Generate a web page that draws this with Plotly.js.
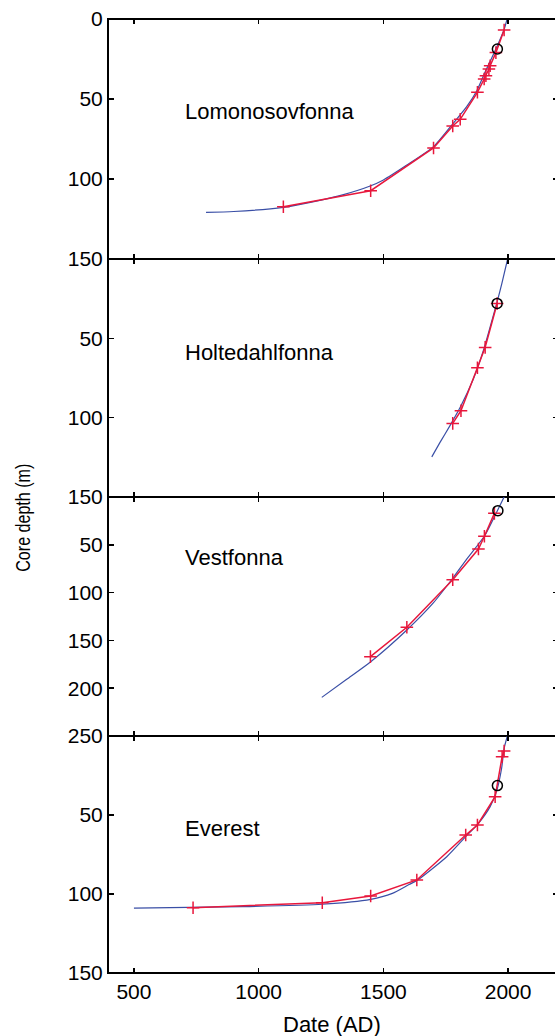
<!DOCTYPE html>
<html>
<head>
<meta charset="utf-8">
<script src="https://cdn.plot.ly/plotly-3.0.1.min.js"></script>
<style>
html, body { margin: 0; padding: 0; overflow: hidden; background: #fff; width: 555px; height: 1036px; }
#chart { width: 558px; height: 1036px; }
</style>
</head>
<body>
<div id="chart"></div>
<script>
// ---- Data ----
const panelNames = ["Lomonosovfonna", "Holtedahlfonna", "Vestfonna", "Everest"];
const xTickVals = [500, 1000, 1500, 2000];

// Lomonosovfonna
const lomoModelYear  = [789, 900, 1099, 1250, 1340, 1447, 1500, 1594, 1701, 1780, 1834, 1874, 1901, 1955, 1984, 1996];
const lomoModelDepth = [120.8, 120.3, 117.7, 113.2, 109.8, 104.4, 100.6, 91.3, 79.8, 65.2, 54.8, 45, 35.5, 17.3, 6.5, 0];
const lomoDatedYear  = [1099, 1449, 1701, 1778, 1808, 1877, 1904, 1911, 1923, 1928, 1951, 1984];
const lomoDatedDepth = [117.3, 107.3, 80.6, 66.9, 62.7, 45.8, 37.5, 35.4, 31.3, 29.2, 21, 6.9];
const lomoRefYear  = [1957];
const lomoRefDepth = [18.75];

// Holtedahlfonna
const holtModelYear  = [1694, 1727, 1767, 1808, 1861, 1901, 1928, 1956, 1975, 1998];
const holtModelDepth = [124.7, 115.6, 105, 93.5, 75.5, 57.6, 42.8, 27, 15.4, 0];
const holtDatedYear  = [1778, 1811, 1877, 1908, 1956];
const holtDatedDepth = [103.6, 95.6, 68.5, 55.7, 28];
const holtRefYear  = [1956];
const holtRefDepth = [28];

// Vestfonna
const vestModelYear  = [1253, 1353, 1448, 1594, 1701, 1778, 1834, 1908, 1955, 1984];
const vestModelDepth = [209.6, 190.7, 172.6, 139.1, 110.5, 85, 65, 39.7, 15.4, 0];
const vestDatedYear  = [1448, 1594, 1778, 1881, 1905, 1945];
const vestDatedDepth = [167, 136.3, 86.5, 54.4, 41, 17.1];
const vestRefYear  = [1959];
const vestRefDepth = [14.3];

// Everest
const evModelYear  = [500, 935, 1255, 1449, 1536, 1603, 1634, 1754, 1830, 1881, 1928, 1955, 1974, 1984, 1997];
const evModelDepth = [109, 108, 106.5, 103.4, 99.6, 94, 91.5, 76.4, 63.7, 55.3, 44.7, 34.2, 20.4, 7.8, 0];
const evDatedYear  = [737, 1255, 1449, 1634, 1830, 1877, 1948, 1976, 1984];
const evDatedDepth = [108.7, 105.5, 101.3, 91.1, 62.7, 56.3, 38.4, 13.1, 9.5];
const evRefYear  = [1957];
const evRefDepth = [31.4];

const depthRanges = [150, 150, 250, 150];
const depthTicks = [[0, 50, 100, 150], [50, 100, 150], [50, 100, 150, 200, 250], [50, 100, 150]];

// ---- Styling / layout ----
const RED = '#e8173c';
const BLUE = '#3a4fa6';
const FONT = 'Liberation Sans, Arial, Helvetica, sans-serif';
const YTITLE = 'Core depth (m)';

const series = [
  [lomoModelYear, lomoModelDepth, lomoDatedYear, lomoDatedDepth, lomoRefYear, lomoRefDepth],
  [holtModelYear, holtModelDepth, holtDatedYear, holtDatedDepth, holtRefYear, holtRefDepth],
  [vestModelYear, vestModelDepth, vestDatedYear, vestDatedDepth, vestRefYear, vestRefDepth],
  [evModelYear, evModelDepth, evDatedYear, evDatedDepth, evRefYear, evRefDepth]
];

// pixel geometry
const W = 558, H = 1036, ML = 109, MR = 0, MT = 19, MB = 63;
const PW = W - ML - MR, PH = H - MT - MB;
const bounds = [19, 259, 497, 736, 973]; // panel top/bottom pixels
const px2x = p => (p - ML) / PW;
const py2y = p => (H - MB - p) / PH;

const traces = [];
const layout = {
  width: W, height: H,
  margin: {l: ML, r: MR, t: MT, b: MB, pad: 0},
  paper_bgcolor: '#fff', plot_bgcolor: '#fff',
  showlegend: false,
  font: {family: FONT, size: 21, color: '#000'},
  annotations: [],
  shapes: [
    {type: 'line', xref: 'paper', yref: 'paper', x0: px2x(108), x1: 1, y0: 1, y1: 1,
     line: {color: '#000', width: 2}},
    {type: 'line', xref: 'paper', yref: 'paper', x0: px2x(108), x1: 1, y0: 0, y1: 0,
     line: {color: '#000', width: 2}}
  ]
};

series.forEach((s, i) => {
  const k = i + 1;
  const xa = k === 1 ? 'x' : 'x' + k;
  const ya = k === 1 ? 'y' : 'y' + k;
  traces.push({x: s[0], y: s[1], xaxis: xa, yaxis: ya, mode: 'lines',
    line: {color: BLUE, width: 1.2, shape: 'spline', smoothing: 0.6}, hoverinfo: 'skip'});
  traces.push({x: s[2], y: s[3], xaxis: xa, yaxis: ya, mode: 'lines+markers',
    line: {color: RED, width: 1.5},
    marker: {symbol: 'cross-thin-open', size: 9, line: {color: RED, width: 1.5}}, hoverinfo: 'skip'});
  traces.push({x: s[4], y: s[5], xaxis: xa, yaxis: ya, mode: 'markers',
    marker: {symbol: 'circle-open', size: 10, color: '#000', line: {color: '#000', width: 1.5}}, hoverinfo: 'skip'});

  const top = bounds[i], bot = bounds[i + 1];
  const xname = k === 1 ? 'xaxis' : 'xaxis' + k;
  const yname = k === 1 ? 'yaxis' : 'yaxis' + k;
  layout[xname] = {
    domain: [0, 1], anchor: ya, range: [400, 2200],
    showline: true, linewidth: 1, linecolor: '#000', mirror: 'ticks',
    ticks: 'inside', ticklen: 5, tickwidth: 1.5, tickcolor: '#000',
    tickvals: xTickVals, ticktext: xTickVals.map(String),
    showticklabels: k === 4, showgrid: false, zeroline: false,
    tickfont: {family: FONT, size: 21, color: '#000'}
  };
  layout[yname] = {
    domain: [py2y(bot), py2y(top)], anchor: xa, range: [depthRanges[i], 0],
    showline: true, linewidth: 2, linecolor: '#000', mirror: 'ticks',
    ticks: 'inside', ticklen: 5, tickwidth: 1.5, tickcolor: '#000',
    tickvals: depthTicks[i], ticktext: depthTicks[i].map(String),
    showgrid: false, zeroline: false,
    tickfont: {family: FONT, size: 21, color: '#000'}
  };
});

const labelY = [112, 352, 557, 828];
panelNames.forEach((name, i) => {
  layout.annotations.push({
    text: name, xref: 'paper', yref: 'paper', x: px2x(183), y: py2y(labelY[i]),
    xanchor: 'left', yanchor: 'middle', showarrow: false,
    font: {family: FONT, size: 22, color: '#000'}
  });
});
layout.annotations.push({
  text: 'Date (AD)', xref: 'paper', yref: 'paper', x: px2x(332), y: py2y(1024),
  xanchor: 'center', yanchor: 'middle', showarrow: false,
  font: {family: FONT, size: 22, color: '#000'}
});
layout.annotations.push({
  text: YTITLE, xref: 'paper', yref: 'paper', x: px2x(23), y: py2y(518),
  xanchor: 'center', yanchor: 'middle', showarrow: false, textangle: -90,
  font: {family: FONT, size: 20, color: '#000'}
});

Plotly.newPlot('chart', traces, layout, {displayModeBar: false, staticPlot: true}).then(gd => {
  // the reference's y title uses a condensed face: compress glyphs to its measured length
  gd.querySelectorAll('.annotation-text').forEach(t => {
    if (t.textContent === YTITLE) {
      t.setAttribute('textLength', '108');
      t.setAttribute('lengthAdjust', 'spacingAndGlyphs');
    }
  });
});
</script>
</body>
</html>
